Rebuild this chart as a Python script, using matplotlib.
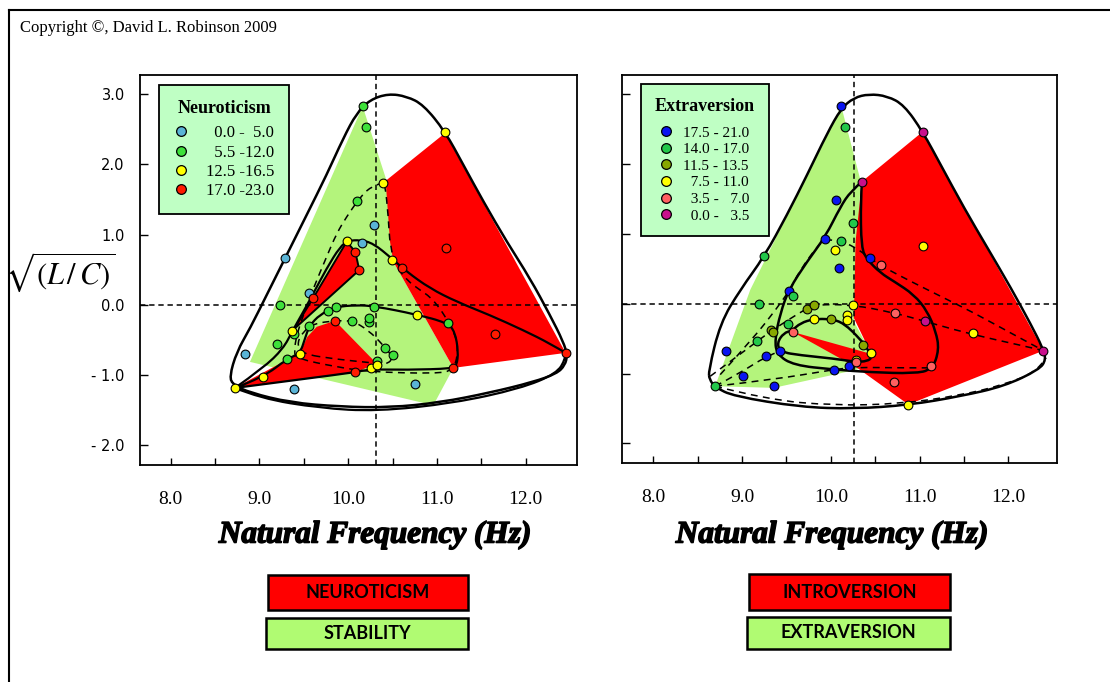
import matplotlib
matplotlib.use('Agg')
import matplotlib.pyplot as plt
from matplotlib.path import Path
from matplotlib.patches import PathPatch, Polygon, Rectangle
from matplotlib.lines import Line2D
import matplotlib.patheffects as pe
import numpy as np

plt.rcParams['font.family'] = ['Liberation Serif', 'DejaVu Serif']
plt.rcParams['mathtext.fontset'] = 'stix'

# ---------------- data: left panel (Neuroticism) ----------------
L_blue_x = [9.288, 9.562, 10.152, 10.294, 8.841, 9.393, 10.756]
L_blue_y = [0.662, 0.172, 0.876, 1.137, -0.694, -1.193, -1.131]
L_green_x = [10.163, 10.200, 10.103, 9.228, 9.201, 9.314, 9.562, 9.776, 9.859, 10.294,
             10.043, 10.231, 10.231, 10.415, 10.509, 11.121, 10.329, 9.393]
L_green_y = [2.825, 2.526, 1.480, -0.004, -0.551, -0.765, -0.299, -0.085, -0.028, -0.037,
             -0.232, -0.242, -0.194, -0.608, -0.717, -0.256, -0.803, -0.418]
L_yellow_x = [11.091, 10.396, 9.983, 10.490, 10.771, 9.370, 9.457, 9.044, 8.724, 10.253, 10.321]
L_yellow_y = [2.454, 1.741, 0.914, 0.638, -0.147, -0.375, -0.694, -1.031, -1.183, -0.893, -0.850]
L_red_x = [11.102, 10.081, 10.125, 9.607, 10.610, 9.851, 11.658, 12.450, 11.185, 10.076]
L_red_y = [0.814, 0.757, 0.495, 0.101, 0.529, -0.232, -0.422, -0.684, -0.898, -0.955]

L_green_poly_x = [10.163, 10.433, 10.509, 11.185, 10.959, 8.893]
L_green_poly_y = [2.825, 1.765, 0.614, -0.898, -1.430, -0.812]
L_red_big_x = [10.422, 11.091, 12.450, 11.185, 10.509, 10.471]
L_red_big_y = [1.765, 2.445, -0.684, -0.898, 0.614, 0.899]
L_red_mid_x = [9.983, 10.080, 10.125, 9.389, 9.607]
L_red_mid_y = [0.899, 0.757, 0.495, -0.346, 0.101]
L_red_low_x = [8.724, 9.457, 9.539, 9.645, 9.851, 10.321, 10.076]
L_red_low_y = [-1.179, -0.684, -0.456, -0.313, -0.227, -0.836, -0.965]

L_outer_x = [8.661, 8.743, 8.893, 9.081, 9.288, 9.532, 9.757, 9.945, 10.095, 10.246, 10.452,
             10.659, 10.847, 11.091, 11.297, 11.523, 11.786, 12.049, 12.274, 12.424, 12.469,
             12.443, 12.349, 12.086, 11.598, 11.034, 10.471, 9.908, 9.344, 8.893, 8.706]
L_outer_y = [-1.026, -0.670, -0.337, 0.139, 0.662, 1.280, 1.851, 2.374, 2.730, 2.920, 3.006,
             2.968, 2.849, 2.469, 1.993, 1.470, 0.899, 0.376, -0.147, -0.527, -0.717,
             -0.860, -0.979, -1.098, -1.250, -1.390, -1.462, -1.450, -1.390, -1.250, -1.140]
L_base_x = [8.724, 9.006, 9.682, 10.321, 11.185, 11.936, 12.349, 12.450, 12.450]
L_base_y = [-1.183, -1.330, -1.470, -1.516, -1.400, -1.193, -0.979, -0.765, -0.684]
L_loop1_x = [8.724, 9.044, 9.269, 9.370, 9.494, 9.607, 9.757, 9.908, 10.001, 10.133, 10.283,
             10.490, 10.659, 10.922, 11.222, 11.598, 11.973, 12.274, 12.450]
L_loop1_y = [-1.183, -0.898, -0.622, -0.375, -0.099, 0.162, 0.519, 0.828, 0.914, 0.923, 0.876,
             0.662, 0.472, 0.234, 0.044, -0.147, -0.361, -0.551, -0.684]
L_loop2_x = [8.724, 9.044, 9.314, 9.457, 9.513, 9.562, 9.682, 9.859, 10.095, 10.294, 10.771,
             11.117, 11.203, 11.241, 11.222, 11.185, 10.659, 10.246, 10.076, 9.532, 8.724]
L_loop2_y = [-1.183, -1.031, -0.765, -0.694, -0.479, -0.299, -0.137, -0.028, -0.004, -0.018,
             -0.137, -0.256, -0.384, -0.670, -0.860, -0.907, -0.926, -0.917, -0.960, -1.050, -1.183]
L_dash1_x = [10.396, 10.246, 10.114, 9.983, 9.870, 9.757, 9.607, 9.494, 9.419, 9.389, 9.419,
             9.870, 10.246, 10.997, 11.185, 11.241, 11.203, 11.128, 11.034, 10.922, 10.809,
             10.659, 10.546, 10.471, 10.452, 10.414, 10.396]
L_dash1_y = [1.741, 1.684, 1.494, 1.256, 1.018, 0.686, 0.234, -0.147, -0.432, -0.670, -0.765,
             -0.884, -0.955, -0.979, -0.931, -0.670, -0.408, -0.242, -0.052, 0.115, 0.210,
             0.353, 0.543, 0.828, 1.256, 1.732, 1.741]
L_dash2_x = [9.457, 9.427, 9.494, 9.607, 9.851, 10.043, 10.227, 10.396, 10.509, 10.433, 10.246, 9.870]
L_dash2_y = [-0.694, -0.527, -0.384, -0.266, -0.227, -0.223, -0.361, -0.575, -0.755, -0.851, -0.822, -0.775]
L_vline = 10.31

L_labels = ['  0.0 -  5.0', '  5.5 -12.0', '12.5 -16.5', '17.0 -23.0']

# ---------------- data: right panel (Extraversion) ----------------
R_blue_x = [10.117, 10.064, 9.940, 10.091, 10.441, 9.526, 8.814, 9.006, 9.356, 9.273, 9.424, 10.034, 10.207]
R_blue_y = [2.828, 1.485, 0.924, 0.509, 0.652, 0.176, -0.681, -1.029, -1.181, -0.752, -0.681, -0.943, -0.886]
R_green_x = [10.159, 10.249, 10.110, 9.251, 9.571, 9.187, 9.518, 9.168, 8.697]
R_green_y = [2.533, 1.152, 0.890, 0.676, 0.114, 0.0, -0.290, -0.538, -1.181]
R_olive_x = [9.733, 9.808, 9.326, 9.349, 9.997, 10.366]
R_olive_y = [-0.077, -0.024, -0.371, -0.405, -0.219, -0.596]
R_yellow_x = [10.042, 11.044, 9.808, 10.185, 10.185, 10.456, 10.287, 11.605, 10.874, 10.249]
R_yellow_y = [0.771, 0.819, -0.219, -0.167, -0.229, -0.705, -0.800, -0.419, -1.443, -0.014]
R_salmon_x = [10.561, 10.720, 9.571, 10.279, 11.126, 10.712]
R_salmon_y = [0.547, -0.133, -0.405, -0.833, -0.886, -1.119]
R_magenta_x = [11.036, 10.351, 11.062, 12.396]
R_magenta_y = [2.461, 1.747, -0.252, -0.672]

R_green_poly_x = [10.117, 10.336, 10.260, 10.456, 10.298, 9.356, 8.697, 9.093]
R_green_poly_y = [2.828, 1.757, -0.253, -0.720, -0.943, -1.205, -1.181, 0.200]
R_red_poly_x = [10.351, 11.036, 12.396, 10.874, 10.298, 9.571, 10.456, 10.260, 10.279]
R_red_poly_y = [1.747, 2.461, -0.672, -1.443, -0.919, -0.405, -0.720, -0.205, 0.890]

R_outer_x = [8.622, 8.754, 8.980, 9.251, 9.507, 9.733, 9.959, 10.117, 10.260, 10.430, 10.637,
             10.825, 11.036, 11.239, 11.503, 11.767, 12.030, 12.256, 12.388, 12.426, 12.350,
             11.955, 11.465, 10.882, 10.260, 9.658, 8.904, 8.697, 8.633]
R_outer_y = [-0.967, -0.277, 0.200, 0.676, 1.271, 1.842, 2.438, 2.795, 2.947, 3.000, 2.971,
             2.843, 2.461, 1.985, 1.366, 0.795, 0.224, -0.300, -0.634, -0.800, -0.943,
             -1.181, -1.324, -1.450, -1.505, -1.480, -1.324, -1.196, -1.086]
R_loop1_x = [10.351, 10.223, 10.110, 9.940, 9.733, 9.526, 9.432, 9.368, 9.394, 9.582, 10.034,
             10.448, 10.938, 11.145, 11.221, 11.183, 11.089, 10.938, 10.712, 10.561, 10.411,
             10.343, 10.336, 10.351]
R_loop1_y = [1.747, 1.604, 1.390, 0.961, 0.604, 0.200, -0.133, -0.515, -0.729, -0.881, -0.943,
             -0.981, -1.000, -0.943, -0.657, -0.396, -0.110, 0.129, 0.319, 0.438, 0.629,
             0.795, 1.485, 1.747]
R_loop2_x = [9.394, 9.469, 9.563, 9.658, 9.808, 9.997, 10.147, 10.336, 10.411, 10.467, 10.411,
             10.279, 10.034, 9.658, 9.432]
R_loop2_y = [-0.562, -0.419, -0.386, -0.277, -0.219, -0.219, -0.277, -0.515, -0.643, -0.767,
             -0.824, -0.833, -0.786, -0.738, -0.691]
R_dashA_x = [8.754, 9.130, 9.394, 9.526, 9.658, 9.846, 9.940, 10.110, 10.260, 10.441, 10.599,
             10.900, 11.239, 11.616, 11.993, 12.396]
R_dashA_y = [-1.015, -0.491, -0.062, 0.176, 0.486, 0.819, 0.924, 0.890, 0.819, 0.652, 0.519,
             0.319, 0.105, -0.134, -0.396, -0.672]
R_dashB_x = [8.641, 9.149, 9.319, 9.733, 9.827, 10.241, 10.720, 11.062, 11.390, 11.767, 12.144, 12.396]
R_dashB_y = [-1.039, -0.562, -0.396, -0.062, -0.014, -0.014, -0.133, -0.252, -0.372, -0.491, -0.596, -0.672]
R_dashC_x = [8.697, 8.980, 9.273, 9.424]
R_dashC_y = [-1.181, -0.990, -0.752, -0.681]
R_dashD_x = [8.697, 9.356, 10.034, 10.260, 10.825, 11.164]
R_dashD_y = [-1.181, -1.086, -0.943, -0.910, -0.919, -0.919]
R_dashE_x = [8.697, 9.281, 10.034, 10.787, 11.465, 11.955, 12.332, 12.426]
R_dashE_y = [-1.181, -1.372, -1.458, -1.434, -1.310, -1.158, -0.967, -0.777]
R_vline = 10.26

R_labels = ['17.5 - 21.0', '14.0 - 17.0', '11.5 - 13.5', '  7.5 - 11.0', '  3.5 -   7.0', '  0.0 -   3.5']

x_major = [8, 9, 10, 11, 12]
x_minor = [8.5, 9.5, 10.5, 11.5]
x_ticklabels = ['8.0', '9.0', '10.0', '11.0', '12.0']
y_ticks = [-2, -1, 0, 1, 2, 3]
y_ticklabels = ['- 2.0', '- 1.0', '0.0', '1.0', '2.0', '3.0']

RED = '#ff0000'
GREEN_FILL = '#b4f47c'
LEG_BG = '#bfffc4'
BOX_GREEN = '#b0fb72'


def smooth_path(xs, ys, closed=False):
    p = np.column_stack([xs, ys]).astype(float)
    n = len(p)
    if closed:
        mids = (p + np.roll(p, -1, axis=0)) / 2
        verts = [mids[-1]]
        codes = [Path.MOVETO]
        for i in range(n):
            verts += [p[i], mids[i]]
            codes += [Path.CURVE3, Path.CURVE3]
    else:
        verts = [p[0]]
        codes = [Path.MOVETO]
        for i in range(1, n - 1):
            end = (p[i] + p[i + 1]) / 2 if i < n - 2 else p[n - 1]
            verts += [p[i], end]
            codes += [Path.CURVE3, Path.CURVE3]
    return Path(verts, codes)


def curve(ax, xs, ys, closed=False, dashed=False, lw=1.6):
    ls = (0, (4.5, 3.5)) if dashed else '-'
    ax.add_patch(PathPatch(smooth_path(xs, ys, closed), fill=False, lw=(1.1 if dashed else lw),
                           ls=ls, ec='black', zorder=3, capstyle='butt'))


def pts(ax, xs, ys, color):
    ax.plot(xs, ys, 'o', ms=6.3, mfc=color, mec='black', mew=0.8, zorder=5, clip_on=False)


fig = plt.figure(figsize=(11.1, 6.82), dpi=100)

# outer frame (top and left lines)
fig.add_artist(Line2D([9 / 1110, 9 / 1110], [0, 1 - 10 / 682], transform=fig.transFigure, color='black', lw=1.5))
fig.add_artist(Line2D([9 / 1110, 1.0], [1 - 10 / 682, 1 - 10 / 682], transform=fig.transFigure, color='black', lw=1.5))

fig.text(20 / 1110, 1 - 28 / 682, 'Copyright ©, David L. Robinson 2009', fontsize=12, va='center', ha='left')

axL = fig.add_axes([140 / 1110, 1 - 465 / 682, 437 / 1110, 390 / 682])
axR = fig.add_axes([622 / 1110, 1 - 463 / 682, 435 / 1110, 388 / 682])


def setup(ax, xlim, vline, show_ylabels):
    ax.set_xlim(*xlim)
    ax.set_ylim(-2.28, 3.272)
    ax.set_xticks(x_major)
    ax.set_xticklabels(x_ticklabels)
    ax.set_xticks(x_minor, minor=True)
    ax.set_yticks(y_ticks)
    ax.set_yticklabels(y_ticklabels if show_ylabels else [])
    ax.tick_params(axis='x', which='both', direction='in', length=5, width=1.0, top=False,
                   labelsize=14, pad=19)
    ax.tick_params(axis='y', which='both', direction='in', length=6, width=1.0, right=False,
                   labelsize=10.5, pad=11)
    for lab in ax.get_yticklabels():
        lab.set_family('DejaVu Sans')
    for sp in ax.spines.values():
        sp.set_linewidth(1.3)
    ax.axhline(0, color='black', lw=1.1, ls=(0, (3.5, 2.5)), zorder=2)
    ax.axvline(vline, color='black', lw=1.1, ls=(0, (3.5, 2.5)), zorder=2)


setup(axL, (7.654, 12.578), L_vline, True)
setup(axR, (7.647, 12.549), R_vline, False)

# ---- left panel
axL.add_patch(Polygon(np.column_stack([L_green_poly_x, L_green_poly_y]), closed=True, fc=GREEN_FILL, ec='none', zorder=1))
axL.add_patch(Polygon(np.column_stack([L_red_big_x, L_red_big_y]), closed=True, fc=RED, ec='none', zorder=1.1))
axL.add_patch(Polygon(np.column_stack([L_red_low_x, L_red_low_y]), closed=True, fc=RED, ec='none', zorder=1.1))
axL.add_patch(Polygon(np.column_stack([L_red_mid_x, L_red_mid_y]), closed=True, fc=RED, ec='black', lw=1.4, zorder=1.2))
curve(axL, L_outer_x, L_outer_y, closed=True, lw=1.8)
curve(axL, L_base_x, L_base_y, lw=1.6)
curve(axL, L_loop1_x, L_loop1_y, lw=1.6)
curve(axL, L_loop2_x, L_loop2_y, lw=1.6)
curve(axL, L_dash1_x, L_dash1_y, dashed=True)
curve(axL, L_dash2_x, L_dash2_y, closed=True, dashed=True)

L_colors = ['#5ab4d6', '#3ee03a', '#ffff00', '#ff1a00']
pts(axL, L_blue_x, L_blue_y, L_colors[0])
pts(axL, L_green_x, L_green_y, L_colors[1])
pts(axL, L_yellow_x, L_yellow_y, L_colors[2])
pts(axL, L_red_x, L_red_y, L_colors[3])

# ---- right panel
axR.add_patch(Polygon(np.column_stack([R_green_poly_x, R_green_poly_y]), closed=True, fc=GREEN_FILL, ec='none', zorder=1))
axR.add_patch(Polygon(np.column_stack([R_red_poly_x, R_red_poly_y]), closed=True, fc=RED, ec='none', zorder=1.1))
curve(axR, R_outer_x, R_outer_y, closed=True, lw=1.8)
curve(axR, R_loop1_x, R_loop1_y, lw=1.8)
curve(axR, R_loop2_x, R_loop2_y, closed=True, lw=1.8)
curve(axR, R_dashA_x, R_dashA_y, dashed=True)
curve(axR, R_dashB_x, R_dashB_y, dashed=True)
curve(axR, R_dashC_x, R_dashC_y, dashed=True)
curve(axR, R_dashD_x, R_dashD_y, dashed=True)
curve(axR, R_dashE_x, R_dashE_y, dashed=True)

R_colors = ['#0a14f0', '#22c84a', '#88a800', '#ffff00', '#ff6060', '#c8108c']
pts(axR, R_blue_x, R_blue_y, R_colors[0])
pts(axR, R_green_x, R_green_y, R_colors[1])
pts(axR, R_olive_x, R_olive_y, R_colors[2])
pts(axR, R_yellow_x, R_yellow_y, R_colors[3])
pts(axR, R_salmon_x, R_salmon_y, R_colors[4])
pts(axR, R_magenta_x, R_magenta_y, R_colors[5])


def make_legend(ax, colors, labels, title, anchor, fsize, spacing, sep, textpad):
    handles = [Line2D([], [], marker='o', ls='none', ms=7, mfc=c, mec='black', mew=0.9) for c in colors]
    leg = ax.legend(handles, labels, title=title, loc='upper left', bbox_to_anchor=anchor,
                    borderaxespad=0, frameon=True, fancybox=False, facecolor=LEG_BG,
                    edgecolor='black', framealpha=1, prop={'family': 'Liberation Serif', 'size': fsize},
                    title_fontproperties={'family': 'Liberation Serif', 'weight': 'bold', 'size': 13},
                    handlelength=0.8, handletextpad=textpad, labelspacing=spacing, borderpad=0.9)
    leg.get_frame().set_linewidth(1.3)
    leg.set_zorder(10)
    try:
        leg._legend_box.sep = sep
    except Exception:
        pass
    return leg


make_legend(axL, L_colors, L_labels, 'Neuroticism', (19 / 437, 1 - 10 / 390), 12, 0.2, 6, 1.1)
make_legend(axR, R_colors, R_labels, 'Extraversion', (19 / 435, 1 - 9 / 388), 11, 0.19, 8, 0.7)

# axis titles
for cx in (375, 832):
    fig.text(cx / 1110, 1 - 535 / 682, 'Natural Frequency (Hz)', fontsize=22.5, fontweight='bold',
             fontstyle='italic', ha='center', va='center', family='Liberation Serif',
             path_effects=[pe.withStroke(linewidth=1.1, foreground='black')])

fig.text(60 / 1110, 1 - 272 / 682, r'$\sqrt{\left(L\,/\,C\right)}$', fontsize=22, ha='center', va='center')

# bottom boxes
boxes = [
    (268, 575, 200, 35, RED, 'NEUROTICISM'),
    (266, 618, 202, 31, BOX_GREEN, 'STABILITY'),
    (749, 574, 201, 36, RED, 'INTROVERSION'),
    (747, 617, 203, 32, BOX_GREEN, 'EXTRAVERSION'),
]
for x0, y0, w, h, fc, txt in boxes:
    fig.add_artist(Rectangle((x0 / 1110, 1 - (y0 + h) / 682), w / 1110, h / 682, transform=fig.transFigure,
                             fc=fc, ec='black', lw=1.8))
    fig.text((x0 + w / 2) / 1110, 1 - (y0 + h / 2) / 682, txt, ha='center', va='center',
             family=['Lato', 'DejaVu Sans'], fontweight='bold', fontsize=13)

fig.savefig('out.png', dpi=100)
